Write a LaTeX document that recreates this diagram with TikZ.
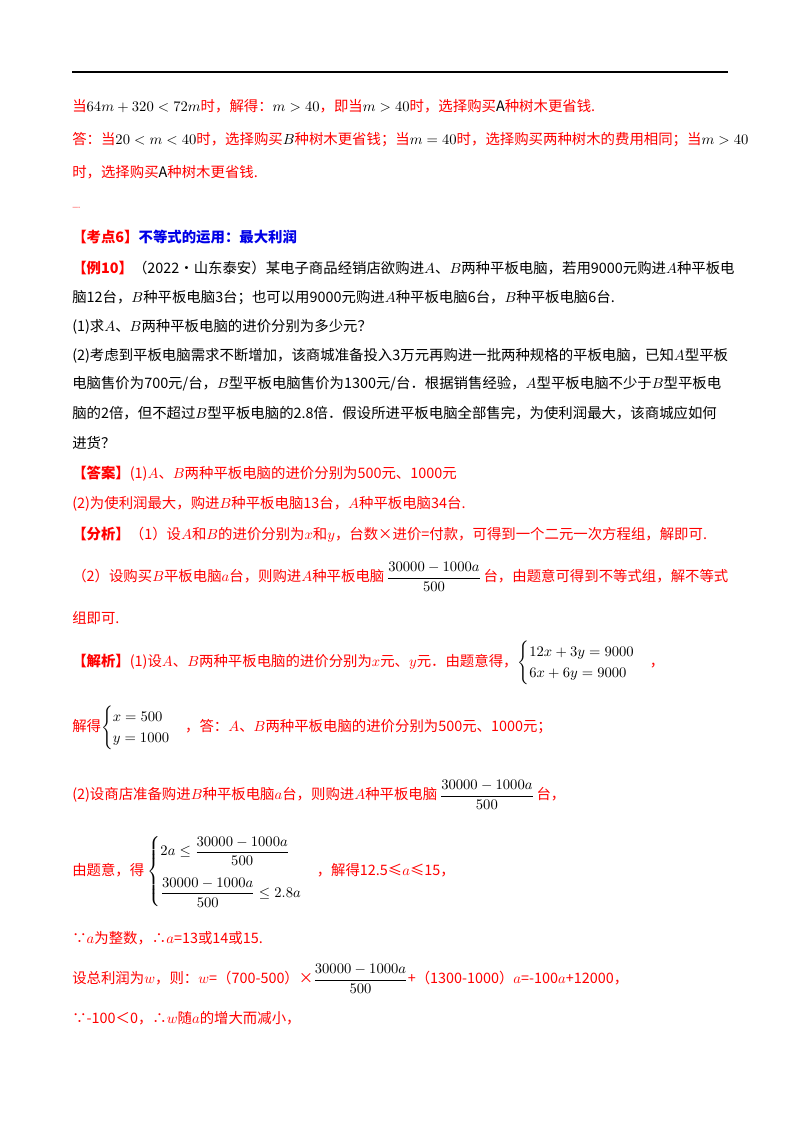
\documentclass[tikz,border=0pt]{standalone}
\usepackage{fontspec}
\usepackage{amsmath}
\setmainfont{Noto Sans CJK SC}
\definecolor{rd}{RGB}{255,0,0}
\definecolor{bl}{RGB}{0,0,230}
\newcommand{\blk}[1]{\textcolor{black}{#1}}
\begin{document}
\begin{tikzpicture}[x=0.75pt,y=-0.75pt,
  t/.style={anchor=west,inner sep=0pt,font=\fontsize{10.8}{13}\selectfont},
  r/.style={t,text=rd}]
\useasboundingbox (0,0) rectangle (800,1132);
\draw[line width=1.2pt] (72,72) -- (728,72);
\node[r] (l1) at (72,106) {当\blk{$64m+320<72m$}时，解得：\blk{$m>40$}，即当\blk{$m>40$}时，选择购买\blk{A}种树木更省钱.};
\node[r] (l2) at (72,140) {答：当\blk{$20<m<40$}时，选择购买\blk{$B$}种树木更省钱；当\blk{$m=40$}时，选择购买两种树木的费用相同；当\blk{$m>40$}};
\node[r] (l3) at (72,172) {时，选择购买\blk{A}种树木更省钱.};
\node[r,font=\fontsize{5}{6}\selectfont] (l4) at (72,208) {----};
\node[t] (l5) at (72,237) {\textcolor{rd}{\textbf{【考点6】}}\textcolor{bl}{\textbf{不等式的运用：最大利润}}};
\node[t] (l6) at (72,268) {\textcolor{rd}{\textbf{【例10】}}（2022·山东泰安）某电子商品经销店欲购进$A$、$B$两种平板电脑，若用9000元购进$A$种平板电};
\node[t] (l7) at (72,298) {脑12台，$B$种平板电脑3台；也可以用9000元购进$A$种平板电脑6台，$B$种平板电脑6台.};
\node[t] (l8) at (72,327) {(1)求$A$、$B$两种平板电脑的进价分别为多少元？};
\node[t] (l9) at (72,356) {(2)考虑到平板电脑需求不断增加，该商城准备投入3万元再购进一批两种规格的平板电脑，已知$A$型平板};
\node[t] (l10) at (72,384) {电脑售价为700元/台，$B$型平板电脑售价为1300元/台．根据销售经验，$A$型平板电脑不少于$B$型平板电};
\node[t] (l11) at (72,413) {脑的2倍，但不超过$B$型平板电脑的2.8倍．假设所进平板电脑全部售完，为使利润最大，该商城应如何};
\node[t] (l12) at (72,443) {进货？};
\node[r] (l13) at (72,474) {\textbf{【答案】}(1)$A$、$B$两种平板电脑的进价分别为500元、1000元};
\node[r] (l14) at (72,504) {(2)为使利润最大，购进$B$种平板电脑13台，$A$种平板电脑34台.};
\node[r] (l15) at (72,535) {\textbf{【分析】}（1）设$A$和$B$的进价分别为$x$和$y$，台数×进价=付款，可得到一个二元一次方程组，解即可.};
\node[r] (l16) at (72,577) {（2）设购买$B$平板电脑$a$台，则购进$A$种平板电脑\,\blk{$\dfrac{30000-1000a}{500}$}\,台，由题意可得到不等式组，解不等式};
\node[r] (l17) at (72,618) {组即可.};
\node[r] (l18) at (72,663) {\textbf{【解析】}(1)设$A$、$B$两种平板电脑的进价分别为$x$元、$y$元．由题意得，\blk{$\begin{cases}12x+3y=9000\\6x+6y=9000\end{cases}$}，};
\node[r] (l19) at (72,728) {解得\blk{$\begin{cases}x=500\\y=1000\end{cases}$}，答：$A$、$B$两种平板电脑的进价分别为500元、1000元；};
\node[r] (l20) at (72,795) {(2)设商店准备购进$B$种平板电脑$a$台，则购进$A$种平板电脑\,\blk{$\dfrac{30000-1000a}{500}$}\,台，};
\node[r] (l21) at (72,872) {由题意，得\ \blk{$\begin{cases}2a\le\dfrac{30000-1000a}{500}\\[12pt]\dfrac{30000-1000a}{500}\le2.8a\end{cases}$}，解得12.5≤$a$≤15，};
\node[r] (l22) at (72,938) {∵$a$为整数，∴$a$=13或14或15.};
\node[r] (l23) at (72,979) {设总利润为$w$，则：$w$=（700-500）×\blk{$\dfrac{30000-1000a}{500}$}+（1300-1000）$a$=-100$a$+12000，};
\node[r] (l24) at (72,1018) {∵-100＜0，∴$w$随$a$的增大而减小，};
\end{tikzpicture}
\end{document}
